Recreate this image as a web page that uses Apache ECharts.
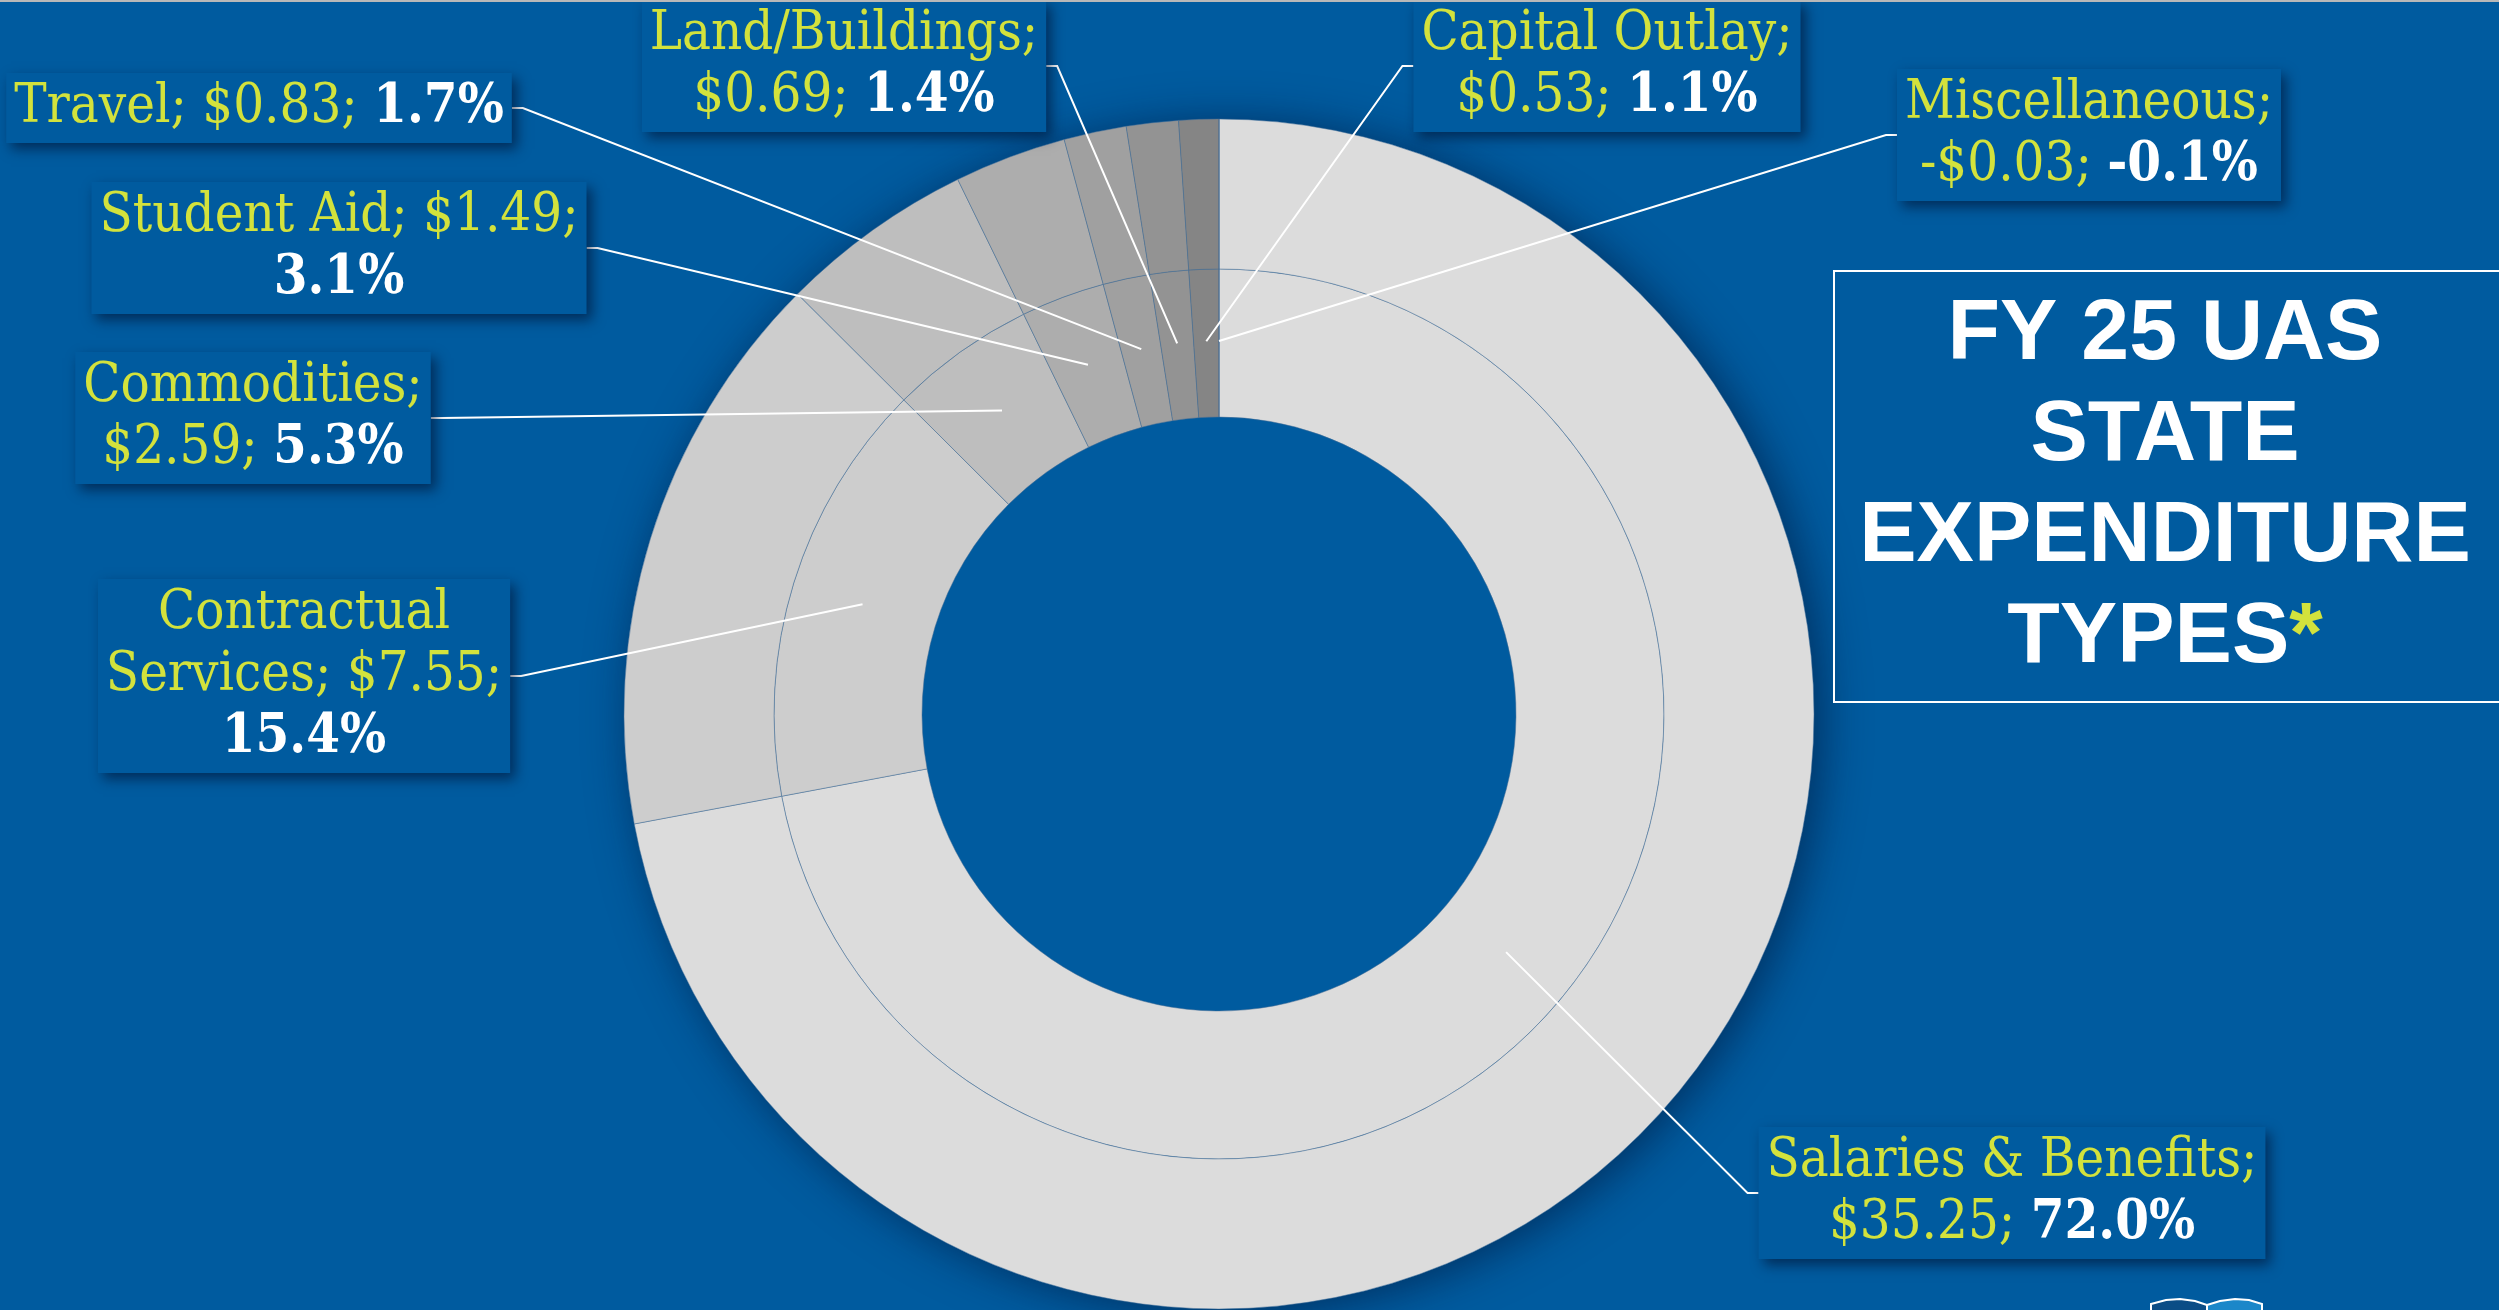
<!DOCTYPE html>
<html>
<head>
<meta charset="utf-8">
<title>FY 25 UAS State Expenditure Types</title>
<script src="https://cdn.jsdelivr.net/npm/echarts@6/dist/echarts.min.js"></script>
<style>
  html, body { margin: 0; padding: 0; background: #005b9f; }
  #chart { width: 2499px; height: 1310px; }
</style>
</head>
<body>
<div id="chart"></div>
<script>
// expenditure types ($ millions), clockwise from 12 o'clock
const categories = ['Salaries & Benefits', 'Contractual Services', 'Commodities', 'Student Aid',
  'Travel', 'Land/Buildings', 'Capital Outlay', 'Miscellaneous'];
const amounts = [35.25, 7.55, 2.59, 1.49, 0.83, 0.69, 0.53, -0.03];
const percents = [72.0, 15.4, 5.3, 3.1, 1.7, 1.4, 1.1, -0.1];
const titleLines = ['FY 25 UAS', 'STATE', 'EXPENDITURE', 'TYPES'];

const BG = '#005b9f';
const YELLOW = '#d3e23c';
const SERIF = '"DejaVu Serif Condensed", "DejaVu Serif", serif';
const sliceColors = ['#dcdcdc', '#cdcdcd', '#bebebe', '#adadad', '#a0a0a0', '#939393', '#858585', '#7a7a7a'];

// label box centres and the side the leader line comes in from
const labelBoxes = [
  { x: 2012, y: 1193, side: 'left' },
  { x: 304, y: 676, side: 'right' },
  { x: 253, y: 418, side: 'right' },
  { x: 339, y: 248, side: 'right' },
  { x: 259, y: 108, side: 'right' },
  { x: 844, y: 66, side: 'right' },
  { x: 1607, y: 66, side: 'left' },
  { x: 2089, y: 135, side: 'left' }
];
// word index after which each label wraps
const labelBreaks = [[2], [0, 2], [0], [2], [], [0], [1], [0]];

function labelText(i) {
  const words = categories[i].split(' ');
  words[words.length - 1] += ';';
  const money = (amounts[i] < 0 ? '-$' : '$') + Math.abs(amounts[i]).toFixed(2) + ';';
  const tokens = words.concat([money]);
  tokens.push(percents[i].toFixed(1) + '%');
  let s = '';
  tokens.forEach(function (t, k) {
    const last = k === tokens.length - 1;
    const brk = labelBreaks[i].indexOf(k) >= 0;
    const tag = last ? 'w' : 'y';
    s += '{' + tag + '|' + t + (!last && !brk ? ' ' : '') + '}';
    if (brk) s += '\n';
  });
  return s;
}

const pieData = categories.map(function (c, i) {
  return { name: c, value: Math.max(0, amounts[i]), itemStyle: { color: sliceColors[i] } };
});

const chart = echarts.init(document.getElementById('chart'));
const ringStyle = { borderColor: 'rgba(70,110,150,0.5)', borderWidth: 1 };
const center = [1219, 714];

chart.setOption({
  backgroundColor: BG,
  animation: false,
  series: [
    {
      // drop shadow under the ring
      type: 'pie', center: center, radius: [0, 595], silent: true,
      label: { show: false }, labelLine: { show: false },
      data: [{ value: 1, itemStyle: { color: BG, shadowBlur: 45, shadowColor: 'rgba(0,20,55,0.6)', shadowOffsetX: 8, shadowOffsetY: 4 } }]
    },
    {
      type: 'pie', center: center, radius: [297, 445], startAngle: 90, silent: true,
      itemStyle: ringStyle, label: { show: false }, labelLine: { show: false },
      data: pieData
    },
    {
      type: 'pie', center: center, radius: [445, 595], startAngle: 90, silent: true,
      itemStyle: ringStyle, label: { show: false }, labelLine: { show: false },
      data: pieData
    },
    {
      // carries the labels; leader lines start inside the ring
      type: 'pie', z: 5, center: center, radius: [0, 373], startAngle: 90, silent: true,
      avoidLabelOverlap: false,
      itemStyle: { color: 'rgba(0,0,0,0)', borderWidth: 0 },
      data: categories.map(function (c, i) { return { name: c, value: Math.max(0, amounts[i]) }; }),
      label: {
        show: true,
        position: 'outside',
        formatter: function (p) { return labelText(p.dataIndex); },
        backgroundColor: BG,
        padding: [4, 8, 4, 8],
        shadowColor: 'rgba(0,15,45,0.6)',
        shadowBlur: 12,
        shadowOffsetX: 5,
        shadowOffsetY: 6,
        fontFamily: SERIF, fontSize: 54, lineHeight: 62, color: YELLOW,
        rich: {
          y: { color: YELLOW, fontFamily: SERIF, fontSize: 54, lineHeight: 62 },
          w: { color: '#ffffff', fontFamily: SERIF, fontSize: 54, fontWeight: 'bold', lineHeight: 62 }
        }
      },
      labelLine: { show: true, length: 20, length2: 10, lineStyle: { color: '#ffffff', width: 2 } },
      labelLayout: function (params) {
        const box = labelBoxes[params.dataIndex];
        const half = params.labelRect.width / 2;
        const edge = box.side === 'left' ? box.x - half : box.x + half;
        const knee = box.side === 'left' ? edge - 11 : edge + 11;
        const start = params.labelLinePoints ? params.labelLinePoints[0] : [knee, box.y];
        return {
          x: box.x, y: box.y, align: 'center', verticalAlign: 'middle',
          labelLinePoints: [start, [knee, box.y], [edge, box.y]]
        };
      }
    }
  ],
  graphic: [
    { type: 'rect', z: 10, shape: { x: 1834, y: 271, width: 700, height: 431 },
      style: { fill: 'none', stroke: '#ffffff', lineWidth: 2 } },
    { type: 'line', z: 10, shape: { x1: 0, y1: 1, x2: 2499, y2: 1 },
      style: { stroke: '#b8b8b8', lineWidth: 2 } },
    {
      type: 'text', z: 10, x: 2165, y: 487,
      style: {
        text: titleLines.map(function (t, i) {
          return '{t|' + t + '}' + (i === titleLines.length - 1 ? '{a|*}' : '');
        }).join('\n'),
        align: 'center', verticalAlign: 'middle',
        textAlign: 'center', textVerticalAlign: 'middle',
        rich: {
          t: { fill: '#ffffff', fontFamily: '"Liberation Sans", Arial, sans-serif', fontWeight: 'bold', fontSize: 86, lineHeight: 101 },
          a: { fill: YELLOW, fontFamily: '"Liberation Sans", Arial, sans-serif', fontWeight: 'bold', fontSize: 86, lineHeight: 101 }
        }
      }
    },
    // top of the logo peeking in at the bottom edge
    { type: 'polygon', z: 10,
      shape: { points: [[2151, 1304], [2166, 1300], [2180, 1299], [2195, 1301], [2207, 1305], [2207, 1316], [2151, 1316]] },
      style: { fill: '#0b4d86', stroke: '#ffffff', lineWidth: 2 } },
    { type: 'polygon', z: 10,
      shape: { points: [[2207, 1305], [2220, 1301], [2235, 1299], [2249, 1300], [2262, 1304], [2262, 1316], [2207, 1316]] },
      style: { fill: '#1b87c9', stroke: '#ffffff', lineWidth: 2 } }
  ]
});
</script>
</body>
</html>
